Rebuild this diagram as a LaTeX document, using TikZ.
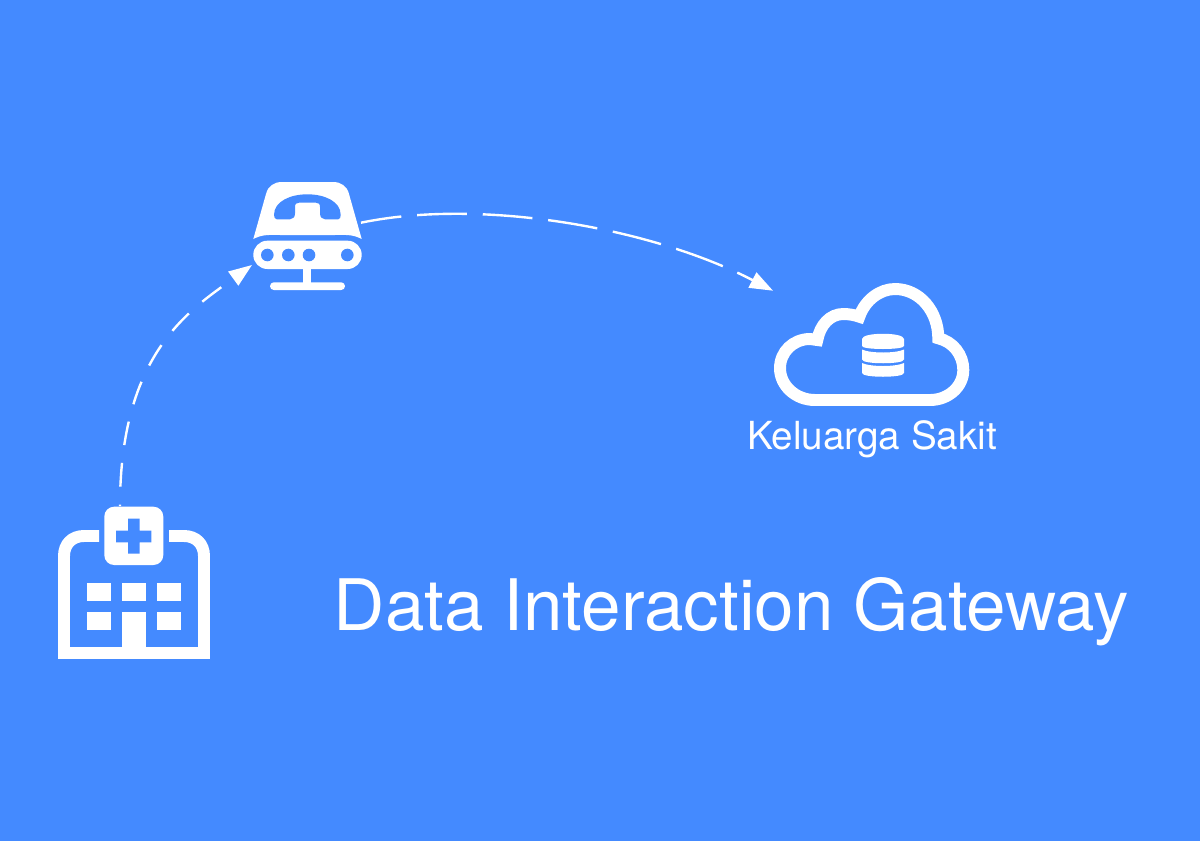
\documentclass[tikz,border=0pt]{standalone}
\usepackage{fontspec}
\setmainfont{TeX Gyre Heros}
\usetikzlibrary{arrows.meta}
\definecolor{bluebg}{HTML}{448AFF}
\begin{document}
\begin{tikzpicture}[x=0.025cm,y=-0.025cm]
	\tikzset{icon/.style = {fill=white, draw=none},
		hole/.style = {fill=bluebg, draw=none},
		iconline/.style = {draw=white, line width=8.5pt},
		link/.style = {draw=white, line width=1.7pt, -{Triangle[length=16.5pt,width=12pt]}},
		caption/.style = {text=white, inner sep=0pt, anchor=base}}

	\useasboundingbox (0,0) rectangle (1200,840);
	\fill[bluebg] (-5,-5) rectangle (1205,845);

	%hospital
	\draw[iconline] (99,536) -- (84,536) .. controls (72,536) and (64,544) .. (64,556) -- (64,653) -- (204,653) -- (204,556) .. controls (204,544) and (196,536) .. (184,536) -- (169,536);
	\fill[icon, rounded corners=7] (104.3,506.7) rectangle (163.3,565);
	\fill[hole] (128,518.7) -- (139.7,518.7) -- (139.7,530.7) -- (151.3,530.7) -- (151.3,542.3) -- (139.7,542.3) -- (139.7,553.7) -- (128,553.7) -- (128,542.3) -- (116,542.3) -- (116,530.7) -- (128,530.7) -- cycle;
	\foreach \wx in {87,122,157} {
		\fill[icon] (\wx,583) rectangle +(23.7,17.7);
	}
	\foreach \wx in {87,157} {
		\fill[icon] (\wx,612) rectangle +(23.7,17.7);
	}
	\fill[icon] (122,612) rectangle (145.7,650);

	%gateway
	\fill[icon] (253.3,239) -- (266,194) .. controls (268,186) and (274,182) .. (282,182) -- (333,182) .. controls (341,182) and (347,186) .. (349,194) -- (361.7,239) .. controls (352,234) and (345,235) .. (335,235) -- (280,235) .. controls (270,235) and (263,234) .. (253.3,239) -- cycle;
	\fill[hole] (276.7,219.3) -- (290,219.3) .. controls (293,219.3) and (295,217) .. (295,213.3) -- (295,207.3) .. controls (295,204) and (296,202.7) .. (299,202.7) -- (316,202.7) .. controls (319,202.7) and (320,204) .. (320,207.3) -- (320,213.3) .. controls (320,217) and (322,219.3) .. (325,219.3) -- (338.3,219.3) .. controls (340,219.3) and (340.7,217) .. (340.7,215) .. controls (340.7,201) and (324,194.3) .. (307.3,194.3) .. controls (291,194.3) and (274,201) .. (274,215) .. controls (274,217) and (275,219.3) .. (276.7,219.3) -- cycle;
	\fill[icon, rounded corners=10] (253.3,240.7) rectangle (361.7,269);
	\foreach \hx in {267.3,288.3,309,347.3} {
		\fill[hole] (\hx,255) circle (6.3);
	}
	\fill[icon] (303.3,268) rectangle (311.3,284);
	\fill[icon, rounded corners=2.7] (270,282.3) rectangle (345,290);

	%cloud
	\draw[iconline] (815,400) .. controls (795,400) and (780,385) .. (780,368.3) .. controls (780,351.7) and (793.3,339) .. (810,339) -- (817.3,340) .. controls (820,325) and (830,314) .. (843.3,314) .. controls (848.3,314) and (855,315) .. (859.3,316.7) .. controls (865,300) and (880,289) .. (895,289) .. controls (920,289) and (938.3,311.7) .. (938.3,338.3) .. controls (953.3,341.7) and (963.3,355) .. (963.3,370) .. controls (963.3,386.7) and (948.3,400) .. (930,400) -- cycle;
	\fill[icon] (862,339) .. controls (862,332) and (904,332) .. (904,339) -- (904,346) .. controls (904,350) and (862,350) .. (862,346) -- cycle;
	\foreach \dy in {349.5,363} {
		\fill[icon] (862,\dy) .. controls (870,\dy+4) and (896,\dy+4) .. (904,\dy) -- (904,\dy+10) .. controls (904,\dy+15) and (862,\dy+15) .. (862,\dy+10) -- cycle;
	}

	\coordinate (hospital_top) at (120,506);
	\coordinate (gateway_left) at (252,265);
	\coordinate (gateway_right) at (361,222.7);
	\coordinate (cloud_top) at (773,290.7);

	%arrows
	\draw[link, dash pattern=on 17pt off 12.75pt, dash phase=16pt] (hospital_top) .. controls (120,353) and (190,310) .. (gateway_left);
	\draw[link, dash pattern=on 35.4pt off 11.3pt, dash phase=6.4pt] (gateway_right) .. controls (480,198) and (650,227) .. (cloud_top);

	\node[caption, font=\fontsize{27.5pt}{30pt}\selectfont] (cloud_label) at (872,449) {Keluarga Sakit};
	\node[caption, font=\fontsize{50.5pt}{56pt}\selectfont] (title) at (731.5,630) {Data Interaction Gateway};
\end{tikzpicture}
\end{document}
